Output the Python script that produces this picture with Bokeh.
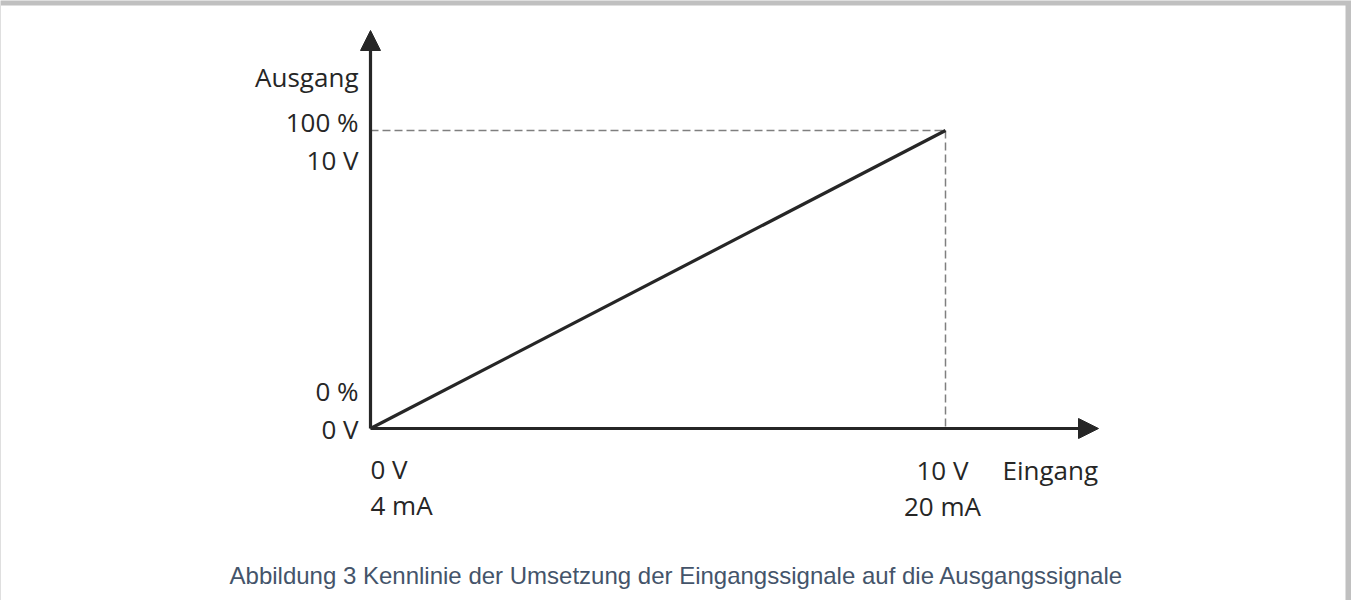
from bokeh.plotting import figure
from bokeh.models import Range1d, Arrow, NormalHead
from bokeh.core.properties import value
from bokeh.embed import file_html
from bokeh.resources import INLINE

# ---- data ----
input_volts = [0, 10]            # Eingang (V)
output_percent = [0, 100]        # Ausgang (%)
y_tick_values = [100, 0]
y_tick_upper = ["100 %", "0 %"]
y_tick_lower = ["10 V", "0 V"]
x_tick_values = [0, 10]
x_tick_upper = ["0 V", "10 V"]
x_tick_lower = ["4 mA", "20 mA"]
x_axis_title = "Eingang"
y_axis_title = "Ausgang"
caption = "Abbildung 3 Kennlinie der Umsetzung der Eingangssignale auf die Ausgangssignale"

# ---- layout (pixel geometry) ----
W, H = 1351, 600
OX, OY = 378 - 8, 436 - 8          # origin inside canvas
KX, KY = 57.5, 2.98                 # px per V, px per %

def dx(px):  # canvas px -> data x
    return (px - OX) / KX

def dy(py):  # canvas px -> data y
    return (OY - py) / KY

p = figure(width=W, height=H, output_backend="svg", toolbar_location=None,
           x_range=Range1d(dx(0), dx(W)), y_range=Range1d(dy(H), dy(0)),
           min_border=0, x_axis_location=None, y_axis_location=None)
p.grid.visible = False
p.outline_line_color = None
p.background_fill_color = "white"
p.border_fill_color = "white"

DARK = "#262626"
FONT = value("Open Sans")

# frame border
p.quad(left=[dx(-3.5)], right=[dx(1349)], top=[dy(1)], bottom=[dy(H + 20)],
       fill_color=None, line_color="#c0c0c0", line_width=8)

# dashed guides
p.line([input_volts[0], input_volts[1]], [output_percent[1], output_percent[1]],
       line_color="#7f7f7f", line_width=1.5, line_dash="8 4")
p.line([input_volts[1], input_volts[1]], [output_percent[1], 0],
       line_color="#7f7f7f", line_width=1.5, line_dash="8 4")

# characteristic line
p.line(input_volts, output_percent, line_color=DARK, line_width=3.2)

# axes with arrows
p.add_layout(Arrow(x_start=0, y_start=0, x_end=0, y_end=dy(30), line_color=DARK,
                   line_width=3.2,
                   end=NormalHead(size=20, fill_color=DARK, line_color=DARK)))
p.add_layout(Arrow(x_start=0, y_start=0, x_end=dx(1098), y_end=0, line_color=DARK,
                   line_width=3.2,
                   end=NormalHead(size=20, fill_color=DARK, line_color=DARK)))

# y tick labels
p.text(x=[0] * 2, y=y_tick_values, text=y_tick_upper, x_offset=-12, y_offset=[-9, -38],
       text_align="right", text_baseline="alphabetic", text_font=FONT,
       text_font_size="26px", text_color=DARK)
p.text(x=[0] * 2, y=y_tick_values, text=y_tick_lower, x_offset=-12, y_offset=[29, 0],
       text_align="right", text_baseline="alphabetic", text_font=FONT,
       text_font_size="26px", text_color=DARK)
p.text(x=[0], y=[dy(84 - 8)], text=[y_axis_title], x_offset=-12,
       text_align="right", text_baseline="alphabetic", text_font=FONT,
       text_font_size="26px", text_color=DARK)

# x tick labels
p.text(x=[x_tick_values[0]] * 2, y=[0, 0], text=[x_tick_upper[0], x_tick_lower[0]],
       y_offset=[40, 76], text_align="left", text_baseline="alphabetic",
       text_font=FONT, text_font_size="26px", text_color=DARK)
p.text(x=[x_tick_values[1]] * 2, y=[0, 0], text=[x_tick_upper[1], x_tick_lower[1]],
       x_offset=-3, y_offset=[41, 77], text_align="center", text_baseline="alphabetic",
       text_font=FONT, text_font_size="26px", text_color=DARK)
p.text(x=[dx(1010 - 8)], y=[0], text=[x_axis_title], y_offset=41,
       text_align="left", text_baseline="alphabetic",
       text_font=FONT, text_font_size="26px", text_color=DARK)

# caption
p.text(x=[dx(W / 2 + 0.5)], y=[dy(583 - 8)], text=[caption],
       text_align="center", text_baseline="middle", text_font=value("Liberation Sans"),
       text_font_size="24px", text_color="#44546a")

open("out.html", "w").write(file_html(p, INLINE))
